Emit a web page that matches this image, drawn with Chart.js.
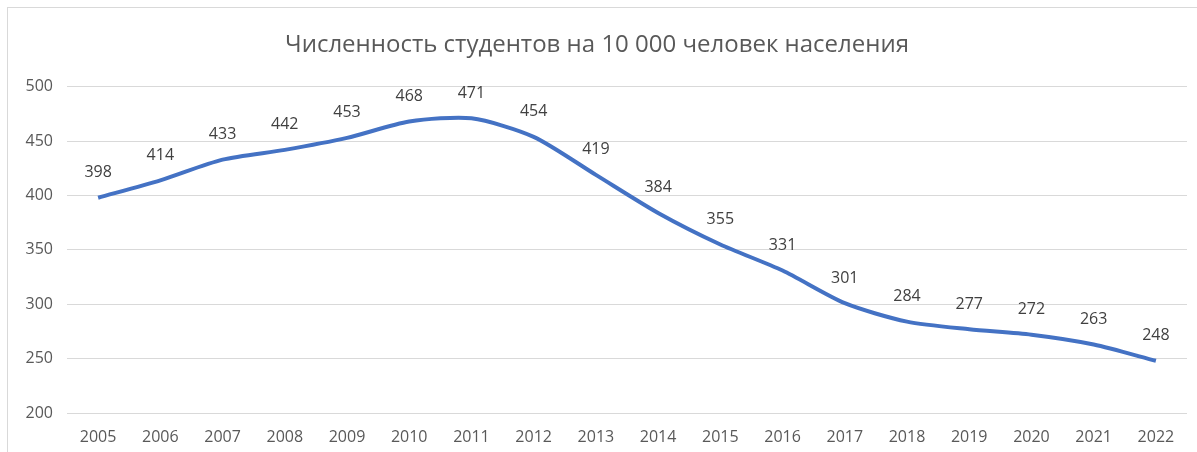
<!DOCTYPE html>
<html>
<head>
<meta charset="utf-8">
<script src="https://cdn.jsdelivr.net/npm/chart.js@4/dist/chart.umd.min.js"></script>
<style>
  html, body { margin: 0; padding: 0; background: #fff; }
  #wrap { position: relative; width: 1197px; height: 452px; overflow: hidden; }
  #frame { position: absolute; left: 7px; top: 7px; width: 1210px; height: 460px; border: 1px solid #d9d9d9; box-sizing: border-box; }
  canvas { position: absolute; left: 0; top: 0; }
</style>
</head>
<body>
<div id="wrap">
  <div id="frame"></div>
  <canvas id="chart" width="1197" height="452"></canvas>
</div>
<script>
  // Data
  const years = ["2005", "2006", "2007", "2008", "2009", "2010", "2011", "2012", "2013",
    "2014", "2015", "2016", "2017", "2018", "2019", "2020", "2021", "2022"];
  const students = [398, 414, 433, 442, 453, 468, 471, 454, 419, 384, 355, 331, 301, 284, 277, 272, 263, 248];
  const titleText = "Численность студентов на 10 000 человек населения";

  const FONT = "'Open Sans', 'Liberation Sans', sans-serif";

  // Draw the value above each point (no datalabels plugin available offline)
  const valueLabels = {
    id: "valueLabels",
    afterDatasetsDraw(chart) {
      const ctx = chart.ctx;
      const meta = chart.getDatasetMeta(0);
      ctx.save();
      ctx.font = `16px ${FONT}`;
      ctx.fillStyle = "#404040";
      ctx.textAlign = "center";
      ctx.textBaseline = "middle";
      meta.data.forEach((pt, i) => {
        ctx.fillText(String(students[i]), pt.x, pt.y - 25);
      });
      ctx.restore();
    }
  };

  new Chart(document.getElementById("chart"), {
    type: "line",
    data: {
      labels: years,
      datasets: [{
        data: students,
        borderColor: "#4472C4",
        borderWidth: 4,
        tension: 0.25,
        pointRadius: 0,
        fill: false
      }]
    },
    options: {
      responsive: false,
      animation: false,
      layout: { padding: { left: 7, right: 10, top: 0, bottom: 0 } },
      plugins: {
        legend: { display: false },
        tooltip: { enabled: false },
        title: {
          display: true,
          text: titleText,
          color: "#595959",
          font: { family: FONT, size: 24, weight: "normal" },
          padding: { top: 31, bottom: 27 }
        }
      },
      scales: {
        x: {
          offset: true,
          grid: { display: false, drawTicks: false },
          border: { display: false },
          ticks: { color: "#595959", font: { family: FONT, size: 16 }, padding: 15, maxRotation: 0 },
          afterFit: (scale) => { scale.height = 39; }
        },
        y: {
          min: 200,
          max: 500,
          ticks: { stepSize: 50, color: "#595959", font: { family: FONT, size: 16 }, padding: 14 },
          grid: { color: "#d9d9d9", lineWidth: 1, drawTicks: false },
          border: { display: false },
          afterFit: (scale) => { scale.width = 60; }
        }
      }
    },
    plugins: [valueLabels]
  });
</script>
</body>
</html>
